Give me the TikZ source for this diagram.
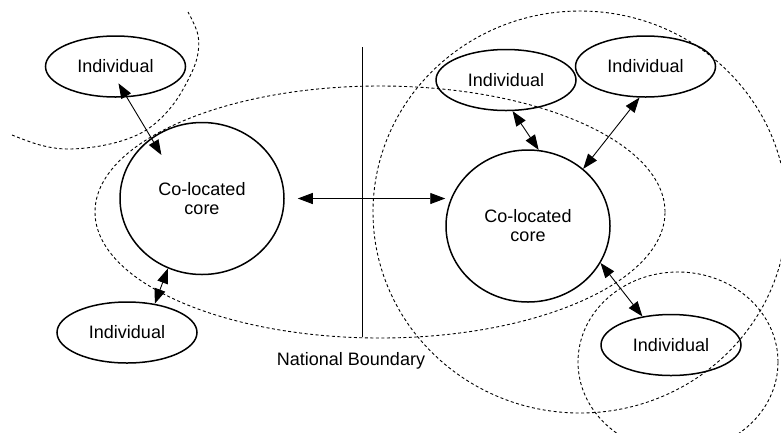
\documentclass[tikz,border=0pt]{standalone}
\usepackage{fontspec}
\setmainfont{Liberation Sans}
\usetikzlibrary{shapes.geometric,arrows.meta,calc}
\begin{document}
\begin{tikzpicture}[x=1pt,y=-1pt,
  txt/.style={font=\fontsize{18}{19}\selectfont},
  indiv/.style={ellipse,draw,line width=1.5pt,minimum width=140pt,minimum height=61pt,inner sep=0pt,txt},
  core/.style={ellipse,draw,line width=1.5pt,minimum width=164pt,minimum height=152pt,inner sep=0pt,align=center,txt},
  dotline/.style={line width=0.9pt,dash pattern=on 3pt off 2.5pt},
  link/.style={line width=0.9pt,{Triangle[length=15pt,width=11pt]}-{Triangle[length=15pt,width=11pt]}},
  boundary/.style={line width=1pt}
]
\useasboundingbox (0,0) rectangle (781,432);
\clip (0,0) rectangle (781,432);

% dashed regions
\draw[dotline] plot[smooth,tension=0.6] coordinates {(12,135) (40,145) (67,149) (100,146) (130,138) (152,126) (172,106) (187,82) (197,58) (198,35) (188,12)};
\draw[dotline] (380,212) ellipse [x radius=285pt, y radius=126pt];
\draw[dotline] (580,212) ellipse [x radius=207pt, y radius=201pt];
\draw[dotline] (678,362) ellipse [x radius=100pt, y radius=90pt];

% national boundary
\coordinate (nbTop) at (362.7,47);
\coordinate (nbBot) at (362.7,337);
\draw[boundary] (nbTop) -- (nbBot);
\node[txt] (nblabel) at (351,361) {National Boundary};

% nodes
\node[indiv] (indTL) at (115.5,66.5) {Individual};
\node[indiv] (indBL) at (127,332.5) {Individual};
\node[indiv] (indTM) at (506,80) {Individual};
\node[indiv] (indTR) at (645.5,66.5) {Individual};
\node[indiv] (indBR) at (671,345) {Individual};
\node[core] (coreL) at (202,198.5) {Co-located\\core};
\node[core] (coreR) at (528,226) {Co-located\\core};

% connectors
\draw[link] ($(indTL.center)!0.54!(indTL.-80)$) -- ($(coreL.center)!0.75!(coreL.133)$);
\draw[link] (coreL.244) -- (indBL.46);
\draw[link] (indTM.-78) -- (coreR.82);
\draw[link] (indTR.-101) -- (coreR.46);
\draw[link] (coreR.-27.5) -- (indBR.135);
\draw[link, shorten <=13pt] (coreL.east) -- (coreL.east -| coreR.west);
\end{tikzpicture}
\end{document}
